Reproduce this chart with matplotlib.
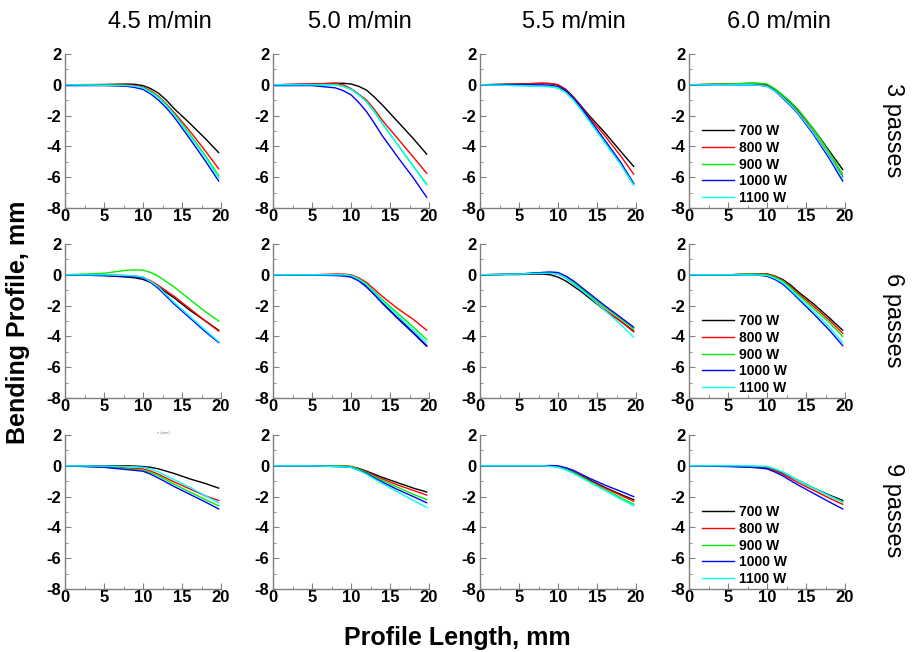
import matplotlib
matplotlib.use("Agg")
import matplotlib.pyplot as plt
from matplotlib.ticker import MultipleLocator

plt.rcParams['font.family'] = ['Liberation Sans', 'DejaVu Sans']
plt.rcParams['axes.unicode_minus'] = False

# ---------------- data ----------------
speeds = ["4.5 m/min", "5.0 m/min", "5.5 m/min", "6.0 m/min"]
passes = ["3 passes", "6 passes", "9 passes"]
powers = ["700 W", "800 W", "900 W", "1000 W", "1100 W"]
colors = ["#000000", "#ff0000", "#00ee00", "#0000ff", "#00ffff"]
x_pts = [0, 5, 8, 9, 10, 11, 12, 13, 14, 16, 18, 19.7]

# rows: 700, 800, 900, 1000, 1100 W
s45_p3 = [[0, 0.02, 0.05, 0.03, -0.05, -0.25, -0.55, -1.0, -1.55, -2.5, -3.5, -4.4],
          [0, 0.0, 0.0, -0.05, -0.15, -0.4, -0.75, -1.25, -1.8, -3.0, -4.3, -5.45],
          [0, -0.02, -0.05, -0.1, -0.2, -0.45, -0.8, -1.3, -1.9, -3.2, -4.6, -5.9],
          [-0.05, -0.05, -0.1, -0.18, -0.3, -0.6, -1.0, -1.5, -2.1, -3.5, -4.95, -6.25],
          [0, -0.03, -0.05, -0.1, -0.2, -0.5, -0.85, -1.35, -1.95, -3.3, -4.7, -6.05]]
s50_p3 = [[0, 0.05, 0.1, 0.1, 0.05, -0.1, -0.35, -0.8, -1.3, -2.4, -3.5, -4.5],
          [0, 0.05, 0.1, 0.0, -0.25, -0.6, -1.0, -1.6, -2.3, -3.5, -4.7, -5.75],
          [0, 0.0, 0.0, -0.1, -0.3, -0.65, -1.1, -1.75, -2.5, -3.9, -5.3, -6.45],
          [-0.05, -0.05, -0.2, -0.38, -0.65, -1.15, -1.75, -2.5, -3.3, -4.7, -6.05, -7.3],
          [0, 0.0, 0.0, -0.1, -0.3, -0.65, -1.1, -1.75, -2.5, -3.9, -5.3, -6.5]]
s55_p3 = [[0, 0.05, 0.1, 0.08, 0.0, -0.3, -0.8, -1.4, -2.0, -3.1, -4.3, -5.3],
          [0, 0.05, 0.1, 0.08, 0.0, -0.35, -0.85, -1.45, -2.1, -3.3, -4.6, -5.8],
          [0, -0.05, -0.1, -0.12, -0.2, -0.5, -1.0, -1.6, -2.3, -3.7, -5.1, -6.5],
          [0, 0.0, 0.0, -0.03, -0.1, -0.4, -0.9, -1.5, -2.2, -3.6, -5.0, -6.4],
          [0, -0.05, -0.1, -0.12, -0.2, -0.5, -1.0, -1.65, -2.35, -3.75, -5.15, -6.5]]
s60_p3 = [[0, 0.05, 0.1, 0.08, 0.0, -0.3, -0.7, -1.15, -1.65, -2.9, -4.3, -5.5],
          [0, 0.05, 0.05, 0.03, -0.05, -0.35, -0.8, -1.3, -1.8, -3.1, -4.6, -5.95],
          [0, 0.05, 0.1, 0.1, 0.05, -0.25, -0.65, -1.1, -1.6, -2.9, -4.4, -5.8],
          [0, 0.0, 0.0, -0.03, -0.1, -0.4, -0.85, -1.35, -1.9, -3.25, -4.8, -6.25],
          [0, 0.0, 0.0, -0.03, -0.1, -0.4, -0.8, -1.3, -1.85, -3.15, -4.65, -6.05]]

s45_p6 = [[0, -0.05, -0.15, -0.2, -0.3, -0.5, -0.8, -1.15, -1.5, -2.3, -3.0, -3.6],
          [0, 0.0, -0.05, -0.08, -0.15, -0.4, -0.7, -1.05, -1.4, -2.2, -3.0, -3.65],
          [0, 0.1, 0.3, 0.32, 0.3, 0.15, -0.1, -0.45, -0.8, -1.6, -2.4, -3.0],
          [0, -0.05, -0.1, -0.13, -0.2, -0.5, -0.9, -1.4, -1.9, -2.8, -3.7, -4.4],
          [0, 0.0, -0.05, -0.08, -0.15, -0.45, -0.8, -1.3, -1.8, -2.7, -3.6, -4.35]]
s50_p6 = [[0, 0.0, 0.0, -0.03, -0.1, -0.35, -0.75, -1.25, -1.8, -2.8, -3.75, -4.6],
          [0, 0.0, 0.05, 0.05, 0.0, -0.2, -0.5, -0.95, -1.4, -2.2, -2.9, -3.6],
          [0, 0.0, 0.0, 0.0, -0.05, -0.25, -0.6, -1.1, -1.6, -2.5, -3.4, -4.2],
          [0, -0.02, -0.05, -0.08, -0.15, -0.4, -0.8, -1.3, -1.85, -2.85, -3.8, -4.65],
          [0, 0.0, 0.0, 0.0, -0.05, -0.3, -0.65, -1.15, -1.7, -2.65, -3.6, -4.4]]
s55_p6 = [[0, 0.02, 0.05, 0.0, -0.15, -0.4, -0.75, -1.1, -1.5, -2.3, -3.0, -3.65],
          [0, 0.05, 0.1, 0.1, 0.05, -0.2, -0.6, -1.0, -1.4, -2.25, -3.0, -3.7],
          [0, 0.05, 0.15, 0.15, 0.1, -0.15, -0.5, -0.9, -1.3, -2.1, -2.85, -3.5],
          [0, 0.05, 0.15, 0.18, 0.15, -0.08, -0.4, -0.8, -1.2, -2.0, -2.75, -3.4],
          [0, 0.05, 0.1, 0.1, 0.05, -0.2, -0.6, -1.0, -1.4, -2.3, -3.2, -4.05]]
s60_p6 = [[0, 0.0, 0.05, 0.06, 0.05, -0.08, -0.3, -0.65, -1.1, -1.9, -2.8, -3.6],
          [0, 0.0, 0.05, 0.06, 0.05, -0.1, -0.35, -0.75, -1.2, -2.05, -2.95, -3.8],
          [0, 0.0, 0.05, 0.04, 0.0, -0.15, -0.4, -0.82, -1.3, -2.2, -3.1, -4.0],
          [0, 0.0, 0.0, -0.03, -0.1, -0.3, -0.6, -1.05, -1.55, -2.55, -3.6, -4.6],
          [0, 0.0, 0.0, -0.02, -0.05, -0.22, -0.5, -0.95, -1.45, -2.4, -3.4, -4.4]]

s45_p9 = [[0, 0.0, 0.0, -0.02, -0.05, -0.1, -0.2, -0.35, -0.5, -0.85, -1.15, -1.45],
          [0, -0.05, -0.15, -0.17, -0.2, -0.35, -0.55, -0.8, -1.05, -1.5, -1.95, -2.25],
          [0, -0.08, -0.2, -0.25, -0.3, -0.45, -0.65, -0.92, -1.2, -1.7, -2.2, -2.6],
          [0, -0.1, -0.25, -0.3, -0.35, -0.55, -0.8, -1.07, -1.35, -1.85, -2.35, -2.8],
          [0, -0.02, -0.05, -0.07, -0.1, -0.22, -0.4, -0.65, -0.9, -1.4, -1.95, -2.4]]
s50_p9 = [[0, 0.0, 0.0, -0.02, -0.05, -0.17, -0.35, -0.55, -0.75, -1.1, -1.45, -1.7],
          [0, 0.0, 0.0, -0.02, -0.05, -0.2, -0.4, -0.62, -0.85, -1.25, -1.6, -1.9],
          [0, 0.0, 0.0, -0.02, -0.05, -0.22, -0.45, -0.7, -0.95, -1.4, -1.85, -2.2],
          [0, 0.0, -0.05, -0.07, -0.1, -0.28, -0.5, -0.78, -1.05, -1.55, -2.0, -2.4],
          [0, 0.0, -0.05, -0.07, -0.1, -0.3, -0.55, -0.85, -1.15, -1.7, -2.25, -2.7]]
s55_p9 = [[0, 0.0, 0.0, -0.02, -0.05, -0.2, -0.4, -0.65, -0.9, -1.4, -1.85, -2.2],
          [0, 0.0, 0.0, -0.02, -0.05, -0.2, -0.4, -0.68, -0.95, -1.45, -1.9, -2.3],
          [0, 0.0, 0.0, -0.02, -0.05, -0.22, -0.45, -0.72, -1.0, -1.55, -2.05, -2.5],
          [0, 0.0, 0.0, 0.02, 0.0, -0.12, -0.3, -0.55, -0.8, -1.25, -1.65, -2.0],
          [0, 0.0, 0.0, -0.04, -0.1, -0.27, -0.5, -0.77, -1.05, -1.6, -2.15, -2.6]]
s60_p9 = [[0, 0.0, -0.05, -0.07, -0.1, -0.25, -0.45, -0.7, -0.95, -1.45, -1.9, -2.25],
          [0, -0.02, -0.1, -0.12, -0.15, -0.32, -0.55, -0.82, -1.1, -1.6, -2.1, -2.5],
          [0, 0.0, -0.05, -0.05, -0.05, -0.2, -0.4, -0.67, -0.95, -1.45, -1.95, -2.35],
          [0, -0.05, -0.1, -0.14, -0.2, -0.4, -0.65, -0.95, -1.25, -1.8, -2.35, -2.8],
          [0, 0.0, 0.0, -0.02, -0.05, -0.2, -0.4, -0.67, -0.95, -1.45, -1.95, -2.35]]

panels = [[s45_p3, s50_p3, s55_p3, s60_p3],
          [s45_p6, s50_p6, s55_p6, s60_p6],
          [s45_p9, s50_p9, s55_p9, s60_p9]]

# ---------------- layout ----------------
W, H = 915, 652
fig = plt.figure(figsize=(W / 100, H / 100), dpi=100)

col_left = [65, 273, 480, 689]
row_top = [54, 244, 435]
ax_w, ax_h = 156, 154

for r in range(3):
    for c in range(4):
        l = col_left[c] / W
        b = 1 - (row_top[r] + ax_h) / H
        ax = fig.add_axes([l, b, ax_w / W, ax_h / H])
        for k, ys in enumerate(panels[r][c]):
            ax.plot(x_pts, ys, color=colors[k], lw=1.0, label=powers[k])
        ax.set_xlim(0, 20)
        ax.set_ylim(-8, 2)
        ax.set_xticks([0, 5, 10, 15, 20])
        ax.set_yticks([-8, -6, -4, -2, 0, 2])
        ax.xaxis.set_minor_locator(MultipleLocator(2.5))
        ax.yaxis.set_minor_locator(MultipleLocator(1))
        for s in ['top', 'right']:
            ax.spines[s].set_visible(False)
        for s in ['left', 'bottom']:
            ax.spines[s].set_color('#808080')
            ax.spines[s].set_linewidth(1.0)
        ax.tick_params(which='major', direction='in', length=4, width=0.8,
                       color='#808080', labelsize=12)
        ax.tick_params(axis='x', which='major', pad=1.0)
        ax.tick_params(axis='y', which='major', pad=2.5)
        ax.tick_params(which='minor', direction='in', length=2, width=0.6,
                       color='#808080')
        for lab in ax.get_xticklabels() + ax.get_yticklabels():
            lab.set_fontweight('bold')
        if c == 3:
            ax.legend(loc='lower left', bbox_to_anchor=(0.03, -0.035),
                      frameon=False, handlelength=2.3,
                      handletextpad=0.35, labelspacing=0.2, borderpad=0.1,
                      prop={'weight': 'bold', 'size': 10})

# column titles
title_x = [160, 360, 574, 779]
for c in range(4):
    fig.text(title_x[c] / W, 1 - 22 / H, speeds[c], ha='center', va='center',
             fontsize=17)

# row labels
row_y = [130, 320, 510]
for r in range(3):
    fig.text(893 / W, 1 - row_y[r] / H, passes[r], ha='center', va='center',
             rotation=-90, fontsize=17)

fig.text(18 / W, 1 - 322 / H, "Bending Profile, mm", ha='center', va='center',
         rotation=90, fontsize=18, fontweight='bold')
fig.text(457 / W, 1 - 638 / H, "Profile Length, mm", ha='center', va='center',
         fontsize=18, fontweight='bold')
fig.text(163 / W, 1 - 433 / H, "x (mm)", ha='center', va='center',
         fontsize=3, color='#808080')

fig.savefig("out.png", dpi=100)
